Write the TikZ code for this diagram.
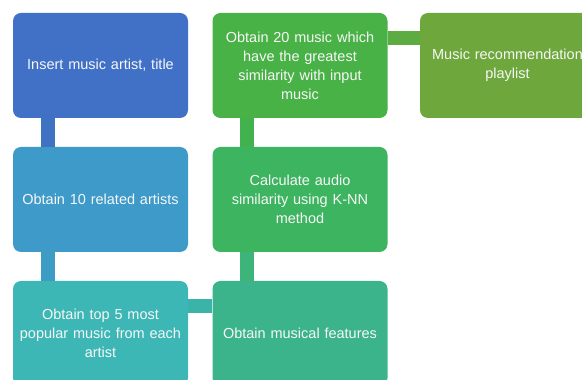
\documentclass[tikz,border=0pt]{standalone}
\usepackage{fontspec}
\setmainfont{Liberation Sans}
\usetikzlibrary{positioning}
\usetikzlibrary{calc}
\definecolor{boxA}{HTML}{4171C6}
\definecolor{boxB}{HTML}{3D9AC9}
\definecolor{boxC}{HTML}{3CB7B6}
\definecolor{boxD}{HTML}{3BB48C}
\definecolor{boxE}{HTML}{3DB45F}
\definecolor{boxF}{HTML}{48B246}
\definecolor{boxG}{HTML}{6EA83C}
\definecolor{linkA}{HTML}{3E72C2}
\definecolor{linkB}{HTML}{3C9CC4}
\definecolor{linkC}{HTML}{3AB4A8}
\definecolor{linkD}{HTML}{3DB47A}
\definecolor{linkE}{HTML}{42B24F}
\definecolor{linkF}{HTML}{5CAC41}
\tikzset{box/.style={rectangle, rounded corners=8pt, minimum width=175pt, minimum height=105pt, text width=165pt, align=center, inner sep=0pt, text=white!94!gray, font=\fontsize{14.5}{19}\selectfont}}
\tikzset{link/.style={line width=14pt}}

\begin{document}
\begin{tikzpicture}[x=1pt,y=1pt]

    \useasboundingbox (0,0) rectangle (582,380);
    \clip (0,0) rectangle (582,380);

    % Nodes
    \node [box, fill=boxA] (insert) at (100.5,314.5) {Insert music artist, title};
    \node [box, fill=boxB] (related) at ($(insert) + (0, -134)$) {Obtain 10 related artists};
    \node [box, fill=boxC] (top5) at ($(related) + (0, -134)$) {Obtain top 5 most\\popular music from each\\artist};
    \node [box, fill=boxD] (features) at ($(top5) + (199.5, 0)$) {Obtain musical features};
    \node [box, fill=boxE] (knn) at ($(features) + (0, 134)$) {Calculate audio\\similarity using K-NN\\method};
    \node [box, fill=boxF] (similar) at ($(knn) + (0, 134)$) {Obtain 20 music which\\have the greatest\\similarity with input\\music};
    \node [box, fill=boxG] (playlist) at ($(similar) + (207.5, 0)$) {Music recommendation\\playlist};

    % Links between nodes
    \draw [link, linkA] ([xshift=35pt]insert.south west) -- ([xshift=35pt]related.north west);
    \draw [link, linkB] ([xshift=35pt]related.south west) -- ([xshift=35pt]top5.north west);
    \draw [link, linkC] ([yshift=-25pt]top5.north east) -- ([yshift=-25pt]features.north west);
    \draw [link, linkD] ([xshift=35pt]features.north west) -- ([xshift=35pt]knn.south west);
    \draw [link, linkE] ([xshift=35pt]knn.north west) -- ([xshift=35pt]similar.south west);
    \draw [link, linkF] ([yshift=-25pt]similar.north east) -- ([yshift=-25pt]playlist.north west);

\end{tikzpicture}
\end{document}
